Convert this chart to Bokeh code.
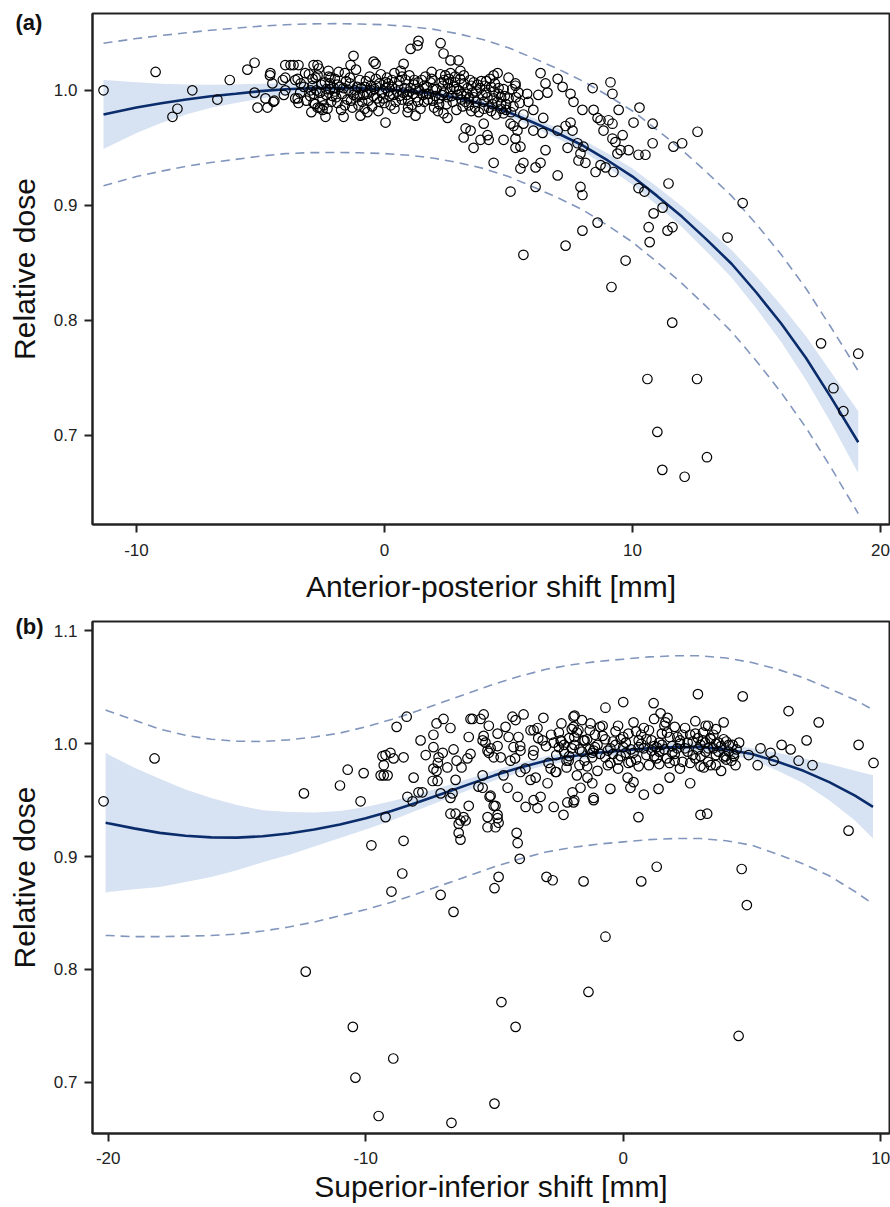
import numpy as np
from bokeh.plotting import figure
from bokeh.models import Range1d, FixedTicker, PrintfTickFormatter
from bokeh.layouts import column
from bokeh.embed import file_html
from bokeh.resources import INLINE

FONT = "Liberation Sans"

# ---------------- Panel (a): anterior-posterior shift ----------------
fit_ax = [-11.33, -11, -10, -9, -8, -7, -6, -5, -4, -3, -2, -1, 0, 1, 2, 3, 4, 5, 6, 7,
          8, 9, 10, 11, 12, 13, 14, 15, 16, 17, 18, 19.1]
fit_ay = [0.979, 0.9805, 0.985, 0.9887, 0.992, 0.9948, 0.997, 0.9993, 1.001, 1.0018,
          1.002, 1.0017, 1.001, 0.9995, 0.997, 0.993, 0.988, 0.981, 0.972, 0.9625,
          0.952, 0.939, 0.925, 0.908, 0.890, 0.870, 0.849, 0.824, 0.797, 0.767, 0.733, 0.694]
ci_half_a = [0.030, 0.028, 0.022, 0.017, 0.013, 0.010, 0.008, 0.0065, 0.005, 0.0045,
             0.004, 0.0035, 0.003, 0.003, 0.003, 0.003, 0.003, 0.0035, 0.004, 0.0045,
             0.005, 0.006, 0.007, 0.008, 0.009, 0.0105, 0.012, 0.014, 0.016, 0.019, 0.022, 0.027]
pi_half_a = [0.062, 0.0615, 0.060, 0.059, 0.058, 0.0575, 0.057, 0.0565, 0.056, 0.056,
             0.056, 0.056, 0.056, 0.056, 0.056, 0.056, 0.056, 0.056, 0.056, 0.056,
             0.056, 0.0565, 0.057, 0.0575, 0.058, 0.0585, 0.059, 0.0595, 0.060, 0.0605, 0.061, 0.062]

a_left = [(-11.33, 1.000), (-9.23, 1.016), (-8.55, 0.977), (-8.35, 0.984), (-7.75, 1.000),
          (-6.74, 0.992), (-6.24, 1.009), (-5.53, 1.018), (-5.24, 1.024), (-5.24, 0.998),
          (-5.12, 0.985), (-4.8, 0.993), (-4.72, 0.985), (-4.62, 1.013), (-4.52, 1.006),
          (-4.44, 0.991), (-4.1, 1.009), (-4.0, 1.022), (-3.67, 1.022), (-3.6, 1.009),
          (-4.06, 0.996), (-3.5, 0.993), (-4.48, 0.990), (-4.6, 1.015), (-3.79, 1.022),
          (-3.47, 1.022), (-4.0, 1.011), (-3.5, 1.010), (-3.38, 1.006), (-4.0, 1.000),
          (-3.6, 0.993), (-3.47, 0.989), (-2.86, 1.022), (-2.7, 1.022), (-2.78, 1.011),
          (-2.26, 1.017), (-2.18, 1.011), (-2.98, 1.000), (-2.86, 0.989), (-2.5, 0.983),
          (-2.38, 0.977), (-2.7, 0.985), (-1.65, 0.977), (-1.37, 1.022), (-1.25, 1.030),
          (-0.44, 1.025), (-0.36, 1.023), (-0.97, 0.978), (-0.69, 0.981), (0.04, 0.972),
          (0.77, 1.023), (0.93, 0.981), (1.25, 0.978), (1.05, 1.036), (1.33, 1.039),
          (1.37, 1.043), (2.26, 1.041), (2.38, 1.032), (2.66, 1.026), (2.98, 1.026),
          (3.06, 1.017), (2.66, 1.015), (2.38, 0.980), (2.54, 0.976), (3.19, 0.959),
          (3.27, 0.967), (3.47, 0.965), (3.59, 0.950), (4.0, 0.971), (4.15, 0.961),
          (3.87, 0.957), (4.4, 1.013), (4.56, 1.015), (5.0, 1.011), (5.28, 1.006),
          (5.08, 0.971), (5.36, 0.965), (5.28, 0.958), (5.48, 0.951), (4.4, 0.937),
          (4.2, 0.957), (5.6, 0.937), (5.6, 0.971), (5.08, 0.912)]

a_core = [(-3.0, 0.995), (-2.9, 1.004), (-2.8, 0.988), (-2.7, 1.013), (-2.6, 0.998), (-2.5, 0.992),
          (-2.4, 1.007), (-2.3, 0.984), (-2.2, 1.001), (-2.1, 0.995), (-2.0, 1.010), (-1.9, 0.989),
          (-1.8, 1.003), (-1.7, 0.997), (-1.6, 1.015), (-1.5, 0.992), (-1.4, 1.006), (-1.3, 0.985),
          (-1.2, 1.000), (-1.1, 0.994), (-1.0, 1.009), (-0.9, 0.990), (-0.8, 1.003), (-0.7, 0.997),
          (-0.6, 1.012), (-0.5, 0.986), (-0.4, 1.001), (-0.3, 0.993), (-0.2, 1.006), (-0.1, 0.998),
          (0.0, 0.989), (0.1, 1.011), (0.2, 0.995), (0.3, 1.003), (0.4, 0.984), (0.5, 0.999),
          (0.6, 1.008), (0.7, 0.992), (0.8, 1.002), (0.9, 0.996), (1.0, 1.013), (1.1, 0.987),
          (1.2, 1.005), (1.3, 0.994), (1.4, 1.000), (1.5, 1.009), (1.6, 0.990), (1.7, 1.003),
          (1.8, 0.997), (1.9, 1.016), (2.0, 0.985), (2.1, 1.001), (2.2, 0.993), (2.3, 1.007),
          (2.4, 0.998), (2.5, 0.988), (2.6, 1.010), (2.7, 0.995), (2.8, 1.003), (2.9, 0.983),
          (3.0, 1.000), (3.1, 0.992), (3.2, 1.006), (3.3, 0.997), (3.4, 0.987), (3.5, 1.004),
          (3.6, 0.994), (3.7, 0.999), (3.8, 0.981), (3.9, 1.008), (4.0, 0.990), (4.1, 0.998),
          (4.2, 0.985), (4.3, 1.003), (4.4, 0.993), (4.5, 0.979), (4.6, 0.997), (4.7, 0.988),
          (4.8, 1.001), (4.9, 0.983), (5.0, 0.993), (5.2, 0.986), (5.4, 0.998), (5.6, 0.979),
          (5.8, 0.990), (6.0, 0.983), (6.2, 0.996), (6.4, 0.976),
          (-2.95, 0.981), (-2.65, 1.019), (-2.35, 0.996), (-2.05, 1.002), (-1.75, 0.983),
          (-1.45, 1.000), (-1.15, 1.018), (-0.85, 0.996), (-0.55, 1.004), (-0.25, 0.982),
          (0.05, 1.002), (0.35, 0.996), (0.65, 1.017), (0.95, 0.985), (1.25, 1.001),
          (1.55, 0.996), (1.85, 1.007), (2.15, 0.982), (2.45, 1.013), (2.75, 0.990),
          (3.05, 1.010), (3.35, 1.002), (3.65, 0.985), (3.95, 0.996), (4.25, 1.010),
          (4.55, 0.990), (4.85, 0.995), (5.15, 1.001), (5.45, 0.989), (5.75, 0.997),
          (-2.75, 1.000), (-2.15, 0.990), (-1.55, 1.008), (-0.95, 1.002), (-0.35, 1.010),
          (0.25, 0.987), (0.85, 1.009), (1.45, 0.984), (2.05, 0.995), (2.65, 1.001),
          (3.25, 0.990), (3.85, 1.002), (4.45, 1.006), (-0.05, 0.993), (0.55, 1.004),
          (1.15, 0.997), (1.75, 0.992), (2.35, 1.004), (2.95, 0.996), (3.55, 0.998),
          (4.15, 0.994), (-1.25, 0.996), (-0.65, 0.991), (0.15, 0.999), (0.75, 0.998),
          (1.35, 1.007), (1.95, 1.001), (2.55, 0.994), (3.15, 0.986), (3.75, 1.005), (4.35, 0.988)]

a_core2 = [(-3.25, 1.003), (-3.15, 0.991), (-3.05, 1.014), (-2.85, 0.997), (-2.55, 1.005),
           (-2.45, 0.987), (-2.25, 1.012), (-1.95, 0.994), (-1.85, 1.016), (-1.65, 1.002),
           (-1.35, 0.991), (-1.05, 0.987), (-0.75, 1.008), (-0.45, 0.995), (-0.15, 1.014),
           (0.15, 1.006), (0.45, 0.990), (0.7, 1.012), (1.05, 1.002), (1.35, 0.990),
           (1.65, 1.012), (1.95, 0.991), (2.25, 1.014), (2.55, 1.006), (2.85, 1.012),
           (3.1, 0.997), (3.45, 1.009), (3.7, 0.990), (4.05, 1.004), (4.3, 0.982),
           (4.6, 1.002), (4.9, 0.988), (5.1, 0.981), (-2.9, 1.010), (-2.2, 1.006),
           (-1.6, 0.987), (-1.0, 0.996), (-0.35, 1.004), (0.3, 1.009), (0.95, 0.991),
           (1.6, 1.004), (2.2, 0.988), (2.85, 1.007), (3.4, 0.993), (4.0, 0.984),
           (4.7, 0.994), (-2.6, 0.985), (-2.0, 0.999), (-1.4, 1.011), (-0.8, 0.984),
           (-0.2, 0.990), (0.4, 1.015), (1.0, 0.999), (1.7, 0.997), (2.3, 0.996),
           (2.9, 1.001), (3.5, 0.982), (4.1, 1.008), (4.8, 0.980), (-3.4, 0.998),
           (-3.2, 1.015), (-1.9, 1.005), (-0.55, 1.000), (0.6, 0.995), (1.9, 1.010),
           (3.2, 1.013), (4.4, 0.999), (5.3, 0.994), (-2.35, 1.001), (-1.1, 1.003),
           (0.05, 1.007), (1.2, 1.009), (2.4, 1.009), (3.6, 1.007), (4.7, 0.984)]

a_right = [(5.28, 1.004), (6.29, 1.015), (6.49, 1.006), (6.57, 0.998), (6.98, 1.010), (7.18, 1.003),
           (7.5, 0.997), (7.62, 0.990), (7.98, 0.983), (8.39, 1.002), (9.11, 1.007), (9.19, 0.997),
           (8.43, 0.983), (8.59, 0.976), (8.71, 0.974), (9.03, 0.974), (9.19, 0.971), (9.44, 0.983),
           (8.83, 0.965), (9.19, 0.958), (9.31, 0.955), (9.6, 0.961), (9.52, 0.948), (9.39, 0.945),
           (9.84, 0.948), (10.28, 0.985), (10.04, 0.972), (10.81, 0.971), (10.24, 0.944),
           (10.52, 0.944), (10.81, 0.954), (11.65, 0.951), (12.0, 0.954), (12.62, 0.964),
           (11.45, 0.919), (10.24, 0.915), (10.48, 0.912), (11.21, 0.898), (10.85, 0.893),
           (10.65, 0.881), (11.41, 0.878), (11.61, 0.881), (10.69, 0.868), (8.59, 0.885),
           (7.98, 0.878), (7.3, 0.865), (7.9, 0.916), (7.98, 0.909), (6.09, 0.916), (5.48, 0.932),
           (6.09, 0.933), (6.29, 0.937), (6.98, 0.926), (6.49, 0.948), (7.38, 0.950), (7.78, 0.954),
           (7.82, 0.939), (8.1, 0.937), (8.51, 0.929), (8.71, 0.935), (8.91, 0.933), (9.23, 0.929),
           (8.02, 0.951), (7.9, 0.945), (13.83, 0.872), (14.44, 0.902), (5.6, 0.857), (9.72, 0.852),
           (6.98, 0.965), (7.3, 0.969), (7.58, 0.965), (7.5, 0.972), (6.0, 0.965), (6.37, 0.963),
           (5.2, 0.969), (5.28, 0.950), (4.8, 0.957)]

a_low = [(9.15, 0.829), (10.6, 0.749), (11.0, 0.703), (11.2, 0.670), (11.6, 0.798), (12.6, 0.749),
         (12.1, 0.664), (13.0, 0.681), (17.6, 0.780), (18.1, 0.741), (18.5, 0.721), (19.1, 0.771)]

# ---------------- Panel (b): superior-inferior shift ----------------
fit_bx = [-20.1, -20, -19, -18, -17, -16, -15, -14, -13, -12, -11, -10, -9, -8, -7, -6, -5,
          -4, -3, -2, -1, 0, 1, 2, 3, 4, 5, 6, 7, 8, 9, 9.7]
fit_by = [0.930, 0.9295, 0.925, 0.921, 0.9185, 0.917, 0.9168, 0.918, 0.9205, 0.924, 0.9285,
          0.934, 0.9405, 0.948, 0.956, 0.964, 0.972, 0.979, 0.985, 0.989, 0.992, 0.994, 0.996,
          0.997, 0.997, 0.995, 0.991, 0.984, 0.976, 0.966, 0.954, 0.944]
ci_half_b = [0.062, 0.061, 0.054, 0.048, 0.041, 0.035, 0.029, 0.023, 0.019, 0.015, 0.012,
             0.010, 0.0085, 0.007, 0.006, 0.005, 0.0045, 0.004, 0.004, 0.004, 0.004, 0.004,
             0.004, 0.004, 0.004, 0.0045, 0.005, 0.008, 0.011, 0.016, 0.022, 0.028]
pi_half_b = [0.100, 0.0995, 0.096, 0.092, 0.089, 0.087, 0.0855, 0.084, 0.083, 0.082, 0.081,
             0.081, 0.081, 0.081, 0.081, 0.081, 0.081, 0.081, 0.081, 0.081, 0.081, 0.081,
             0.081, 0.081, 0.081, 0.081, 0.081, 0.082, 0.0825, 0.083, 0.085, 0.086]

b_left = [(-20.18, 0.949), (-18.2, 0.987), (-12.4, 0.956), (-11.0, 0.963), (-10.7, 0.977),
          (-10.08, 0.974), (-10.2, 0.949), (-9.23, 0.935), (-9.78, 0.910), (-8.58, 0.885),
          (-8.53, 0.914), (-9.0, 0.869), (-7.09, 0.866), (-6.59, 0.851), (-6.32, 0.915),
          (-8.8, 1.015), (-8.41, 1.024), (-9.35, 0.989), (-9.23, 0.990), (-9.04, 0.992),
          (-9.42, 0.972), (-9.3, 0.972), (-9.15, 0.972), (-9.3, 0.981), (-8.92, 0.987),
          (-8.53, 0.988), (-8.14, 0.970), (-8.38, 0.953), (-8.18, 0.949), (-7.95, 0.957),
          (-7.8, 0.957), (-7.4, 0.967), (-7.09, 0.956), (-7.87, 1.003), (-7.67, 0.990),
          (-7.37, 0.997), (-7.37, 1.008), (-7.25, 1.018), (-6.98, 1.022), (-6.71, 1.014),
          (-7.01, 0.992), (-7.2, 0.983), (-7.25, 0.976), (-6.83, 0.979), (-6.59, 0.995),
          (-6.47, 0.985), (-6.51, 0.968), (-6.71, 0.952), (-6.71, 0.938), (-6.39, 0.929),
          (-6.2, 0.935), (-6.0, 0.945), (-6.28, 0.979), (-6.05, 0.987), (-5.93, 0.991),
          (-6.0, 1.006), (-5.85, 1.022), (-5.54, 1.022), (-5.42, 1.026), (-5.22, 1.016),
          (-5.42, 1.007), (-5.35, 1.001), (-5.15, 0.996), (-5.22, 0.992), (-5.03, 0.988),
          (-4.88, 1.009), (-5.46, 0.972), (-5.62, 0.962), (-5.19, 0.953), (-5.03, 0.945),
          (-5.27, 0.935), (-4.88, 0.934), (-5.27, 0.926), (-4.96, 0.926), (-5.0, 0.872),
          (-4.84, 0.882), (-7.17, 0.988), (-7.37, 0.978), (-7.21, 0.967), (-6.63, 0.956),
          (-6.32, 0.932), (-6.51, 0.938), (-6.39, 0.921), (-6.12, 0.932), (-5.93, 1.022),
          (-5.46, 1.003), (-5.27, 0.994), (-4.88, 0.998), (-4.76, 0.988), (-5.46, 0.961),
          (-5.15, 0.954), (-4.96, 0.945), (-4.88, 0.937), (-4.84, 0.930)]

b_mid = [(-4.49, 0.961), (-4.65, 0.972), (-4.38, 0.985), (-4.26, 0.997), (-4.45, 1.006),
         (-4.57, 1.015), (-4.3, 1.024), (-4.18, 1.021), (-3.87, 1.026), (-4.07, 1.006),
         (-3.99, 0.994), (-3.99, 0.975), (-4.1, 0.953), (-4.14, 0.921), (-3.79, 0.944),
         (-3.48, 0.950), (-3.6, 0.968), (-3.48, 1.012), (-3.33, 1.014), (-3.1, 1.023),
         (-3.13, 1.003), (-3.48, 0.994), (-2.94, 0.965), (-3.33, 0.943), (-3.21, 0.953),
         (-2.82, 0.978), (-2.63, 0.975), (-2.32, 0.937), (-2.17, 0.948), (-1.93, 0.948),
         (-1.97, 0.957), (-1.93, 1.024), (-1.93, 1.015), (-1.74, 1.012), (-1.54, 1.003),
         (-1.27, 1.018), (-1.15, 0.994), (-1.15, 0.950), (-1.39, 0.970), (-1.66, 0.961),
         (-2.12, 0.985), (-2.43, 1.003), (-4.02, 0.898), (-4.1, 0.912), (-2.98, 0.882),
         (-2.74, 0.879), (-1.54, 0.878)]

b_core = [(-3.0, 0.998), (-2.8, 1.008), (-2.6, 0.990), (-2.4, 1.002), (-2.2, 0.985), (-2.0, 0.996),
          (-1.8, 1.010), (-1.6, 0.993), (-1.4, 1.004), (-1.2, 0.988), (-1.0, 0.999), (-0.8, 1.007),
          (-0.6, 0.994), (-0.4, 1.002), (-0.2, 0.986), (0.0, 0.997), (0.2, 1.009), (0.4, 0.992),
          (0.6, 1.003), (0.8, 0.996), (1.0, 1.012), (1.2, 0.989), (1.4, 1.001), (1.6, 0.995),
          (1.8, 1.006), (2.0, 0.991), (2.2, 1.000), (2.4, 0.996), (2.6, 1.008), (2.8, 0.987),
          (3.0, 0.999), (3.2, 0.993), (3.4, 1.004), (3.6, 0.990), (3.8, 0.998), (4.0, 1.002),
          (4.2, 0.985), (4.4, 0.995), (-2.9, 0.983), (-2.5, 0.997), (-2.1, 1.005), (-1.7, 0.981),
          (-1.3, 0.995), (-0.9, 1.015), (-0.5, 0.983), (-0.1, 1.004), (0.3, 0.984), (0.7, 1.000),
          (1.1, 0.994), (1.5, 1.009), (1.9, 0.998), (2.3, 0.984), (2.7, 1.002), (3.1, 1.010),
          (3.5, 0.996), (3.9, 0.988), (-2.7, 1.001), (-2.3, 0.993), (-1.9, 0.999), (-1.5, 1.003),
          (-1.1, 1.008), (-0.7, 0.988), (-0.3, 0.999), (0.1, 0.992), (0.5, 1.011), (0.9, 1.004),
          (1.3, 0.997), (1.7, 0.987), (2.1, 1.006), (2.5, 0.993), (2.9, 1.005), (3.3, 0.984),
          (3.7, 1.001), (4.1, 0.993), (-3.5, 0.990), (-3.3, 1.005), (-3.8, 0.978), (-4.0, 0.998),
          (-3.6, 1.012), (-4.2, 0.987), (-3.4, 0.970), (-2.6, 0.975), (-1.8, 0.972), (-1.0, 0.976),
          (-0.2, 0.978), (0.6, 0.980), (1.4, 0.982), (2.2, 0.978), (3.0, 0.980), (3.8, 0.976),
          (-2.4, 1.018), (-1.6, 1.021), (-0.8, 1.016), (0.4, 1.019), (1.2, 1.022), (2.0, 1.015),
          (2.8, 1.020), (3.6, 1.013), (-0.5, 0.960), (-1.9, 0.950), (0.8, 0.955), (-2.7, 0.944),
          (-1.2, 0.965), (1.8, 0.970), (2.6, 0.965)]

b_core2 = [(-2.5, 1.010), (-2.3, 0.999), (-2.1, 0.989), (-1.9, 1.006), (-1.7, 0.995), (-1.5, 0.985),
           (-1.3, 1.012), (-1.1, 0.997), (-0.9, 0.991), (-0.7, 1.004), (-0.5, 0.996), (-0.3, 1.011),
           (-0.1, 0.989), (0.1, 1.001), (0.3, 0.995), (0.5, 0.986), (0.7, 1.008), (0.9, 0.990),
           (1.1, 1.003), (1.3, 0.987), (1.5, 0.999), (1.7, 1.010), (1.9, 0.992), (2.1, 0.996),
           (2.3, 1.008), (2.5, 1.001), (2.7, 0.990), (2.9, 0.995), (3.1, 1.003), (3.3, 0.996),
           (3.5, 1.008), (3.7, 0.993), (3.9, 1.004), (4.1, 0.999), (4.3, 0.989), (4.5, 1.001),
           (-2.2, 0.979), (-1.4, 0.980), (-0.6, 0.981), (0.2, 0.983), (1.0, 0.981), (1.8, 0.983),
           (2.6, 0.983), (3.4, 0.981), (-2.0, 1.013), (-0.2, 1.016), (0.8, 1.014), (1.6, 1.016),
           (2.4, 1.014), (3.2, 1.016), (-1.2, 0.992), (0.0, 1.006), (1.2, 0.998), (2.2, 1.003),
           (3.0, 0.989), (4.0, 0.986), (-0.4, 0.991), (0.6, 0.997), (1.4, 0.993), (2.0, 0.985),
           (2.8, 1.009), (3.6, 1.000)]

b_right = [(2.9, 1.044), (3.9, 1.019), (4.25, 0.999), (4.29, 0.991), (4.36, 0.981), (3.98, 0.989),
           (3.59, 0.981), (3.13, 0.979), (3.3, 1.016), (3.38, 1.005), (3.18, 1.001), (3.0, 0.937),
           (1.37, 0.960), (1.18, 1.036), (0.0, 1.037), (-0.69, 1.032), (-1.89, 1.025), (1.45, 1.027),
           (1.72, 1.023), (1.64, 1.019), (0.59, 0.935), (-1.15, 0.952), (0.4, 0.966), (0.17, 0.970),
           (0.28, 0.961), (3.26, 0.938), (0.7, 0.878), (1.3, 0.891),
           (4.64, 1.042), (6.42, 1.029), (7.59, 1.019), (7.12, 1.003), (6.15, 0.999), (6.5, 0.995),
           (5.33, 0.996), (5.72, 0.992), (4.87, 0.990), (5.84, 0.985), (6.81, 0.985), (7.35, 0.981),
           (5.22, 0.981), (9.14, 0.999), (9.72, 0.983), (8.75, 0.923), (4.6, 0.889), (4.8, 0.857)]

b_low = [(-12.33, 0.798), (-10.5, 0.749), (-10.4, 0.704), (-8.93, 0.721), (-9.5, 0.670),
         (-6.67, 0.664), (-5.0, 0.681), (-4.73, 0.771), (-4.18, 0.749), (-1.35, 0.780),
         (-0.69, 0.829), (4.48, 0.741)]

# ---------------- styling ----------------
LINE_C = "#0b2c6b"
BAND_C = "#d7e2f2"
PI_C = "#8296bd"
AX_C = "#222222"
W = 890


def make_panel(fx, fy, ci_half, pi_half, groups, xr, yr, xticks, yticks,
               xlabel, tag, tag_standoff, height, top, bottom, tick_standoff, label_standoff):
    fy_arr = np.array(fy)
    p = figure(width=W, height=height, x_range=Range1d(*xr), y_range=Range1d(*yr),
               output_backend="svg", toolbar_location=None,
               min_border_left=92, min_border_right=1, min_border_top=top,
               min_border_bottom=bottom, background_fill_color="white",
               border_fill_color="white")
    p.grid.visible = False
    p.outline_line_color = AX_C
    p.outline_line_width = 2

    p.varea(x=fx, y1=fy_arr - np.array(ci_half), y2=fy_arr + np.array(ci_half),
            fill_color=BAND_C, fill_alpha=1.0)
    p.line(fx, fy_arr + np.array(pi_half), line_color=PI_C, line_width=1.6, line_dash="9 6")
    p.line(fx, fy_arr - np.array(pi_half), line_color=PI_C, line_width=1.6, line_dash="9 6")
    p.line(fx, fy, line_color=LINE_C, line_width=2.6)
    xs, ys = [], []
    for g in groups:
        xs += [pt[0] for pt in g]
        ys += [pt[1] for pt in g]
    p.scatter(xs, ys, marker="circle", size=9.5, fill_color=None,
              line_color="black", line_width=1.2)

    p.xaxis.ticker = FixedTicker(ticks=xticks)
    p.yaxis.ticker = FixedTicker(ticks=yticks)
    p.xaxis.formatter = PrintfTickFormatter(format="%d")
    p.yaxis.formatter = PrintfTickFormatter(format="%.1f")
    for ax in (p.xaxis, p.yaxis):
        ax.axis_line_color = AX_C
        ax.axis_line_width = 2
        ax.major_tick_line_color = AX_C
        ax.major_tick_line_width = 2
        ax.major_tick_out = 8
        ax.major_tick_in = 0
        ax.minor_tick_line_color = None
        ax.major_label_text_font = FONT
        ax.major_label_text_font_size = "17px"
        ax.major_label_text_color = AX_C
        ax.axis_label_text_font = FONT
        ax.axis_label_text_font_size = "30px"
        ax.axis_label_text_font_style = "normal"
        ax.axis_label_text_color = "#111111"
    p.xaxis.axis_label = xlabel
    p.yaxis.axis_label = "Relative dose"
    p.xaxis.major_label_standoff = tick_standoff
    p.xaxis.axis_label_standoff = label_standoff
    p.yaxis.major_label_standoff = 7
    p.yaxis.axis_label_standoff = 10

    # panel tag "(a)" / "(b)" drawn as the plot title, shifted left of the frame
    p.title.text = tag
    p.title.align = "left"
    p.title.offset = -77
    p.title.standoff = tag_standoff
    p.title.vertical_align = "bottom"
    p.title.text_font = FONT
    p.title.text_font_size = "22px"
    p.title.text_font_style = "bold"
    p.title.text_color = "#111111"
    return p


pa = make_panel(fit_ax, fit_ay, ci_half_a, pi_half_a,
                [a_left, a_core, a_core2, a_right, a_low],
                (-11.774, 20.36), (0.6225, 1.0668), [-10, 0, 10, 20], [0.7, 0.8, 0.9, 1.0],
                "Anterior-posterior shift [mm]", "(a)", -42, 605, 13, 80, 11, 11)

pb = make_panel(fit_bx, fit_by, ci_half_b, pi_half_b,
                [b_left, b_mid, b_core, b_core2, b_right, b_low],
                (-20.61, 10.34), (0.6545, 1.1084), [-20, -10, 0, 10], [0.7, 0.8, 0.9, 1.0, 1.1],
                "Superior-inferior shift [mm]", "(b)", -34, 602, 16, 74, 10, 3)

layout = column(pa, pb, spacing=0)
open("out.html", "w").write(file_html(layout, INLINE))
